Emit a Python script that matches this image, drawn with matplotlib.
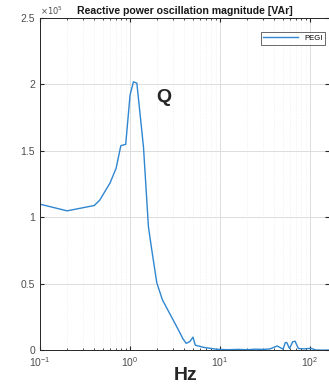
import matplotlib
matplotlib.use('Agg')
import matplotlib.pyplot as plt
import numpy as np
from matplotlib.ticker import FuncFormatter, LogLocator

plt.rcParams['font.family'] = ['Liberation Sans', 'DejaVu Sans']

# frequency [Hz] and reactive power oscillation magnitude [x1e5 VAr]
freq = [0.1, 0.2, 0.4, 0.46, 0.6, 0.7, 0.79, 0.895, 1.0, 1.09, 1.19, 1.41,
        1.6, 1.74, 1.98, 2.29, 2.9, 3.6, 3.85, 4.2, 4.6, 5.0, 5.3, 6.5, 9.2,
        12, 16, 20, 25, 30, 36, 43, 47, 50, 53, 55, 59, 64, 68, 74, 85, 95,
        104, 115, 130, 165]
q_mag = [1.10, 1.05, 1.09, 1.13, 1.26, 1.37, 1.54, 1.55, 1.92, 2.02, 2.01, 1.53,
         0.93, 0.76, 0.51, 0.38, 0.25, 0.13, 0.09, 0.054, 0.066, 0.10, 0.04, 0.024, 0.009,
         0.006, 0.008, 0.006, 0.01, 0.008, 0.012, 0.034, 0.02, 0.01, 0.059, 0.06, 0.015, 0.065,
         0.07, 0.015, 0.012, 0.015, 0.015, 0.004, 0.003, 0.003]

fig = plt.figure(figsize=(3.29, 3.86), dpi=100)
ax = fig.add_axes([0.1216, 0.0920, 0.8784, 0.8614])

ax.semilogx(freq, q_mag, color='#2f86d1', linewidth=1.0, label='PEGI')
ax.set_xlim(0.1, 162)
ax.set_ylim(0, 2.5)
ax.set_yticks([0, 0.5, 1, 1.5, 2, 2.5])
ax.yaxis.set_major_formatter(FuncFormatter(lambda v, p: '%g' % v))
ax.xaxis.set_minor_locator(LogLocator(base=10, subs=np.arange(2, 10), numticks=20))

ax.grid(True, which='major', color='#dcdcdc', linewidth=0.7)
ax.grid(True, which='minor', color='#ececec', linestyle=':', linewidth=0.6)
ax.tick_params(which='both', direction='in', top=True, right=True,
               labelsize=7.5, colors='#262626', labelcolor='#4d4d4d')
ax.tick_params(which='major', length=3)
ax.tick_params(which='minor', length=1.5)
for s in ax.spines.values():
    s.set_color('#262626')
    s.set_linewidth(0.7)

ax.set_title('Reactive power oscillation magnitude [VAr]', fontsize=7.6,
             fontweight='bold', color='#1a1a1a', pad=3)
ax.text(0.0, 1.003, r'$\times10^5$', transform=ax.transAxes, fontsize=6,
        color='#4d4d4d', va='bottom', ha='left')

leg = ax.legend(loc='upper right', fontsize=5.5, frameon=True, fancybox=False,
                handlelength=4.5, borderpad=0.35, borderaxespad=0,
                bbox_to_anchor=(325 / 329, 1 - 32 / 386), bbox_transform=fig.transFigure)
leg.get_frame().set_edgecolor('#262626')
leg.get_frame().set_linewidth(0.6)

fig.text(163.5 / 329, 1 - 97 / 386, 'Q', fontsize=14, fontweight='bold',
         color='#262626', ha='center', va='center')
fig.text(186 / 329, 1 - 376 / 386, 'Hz', fontsize=14, fontweight='bold',
         color='#262626', ha='center', va='center')

fig.savefig('out.png', dpi=100)
